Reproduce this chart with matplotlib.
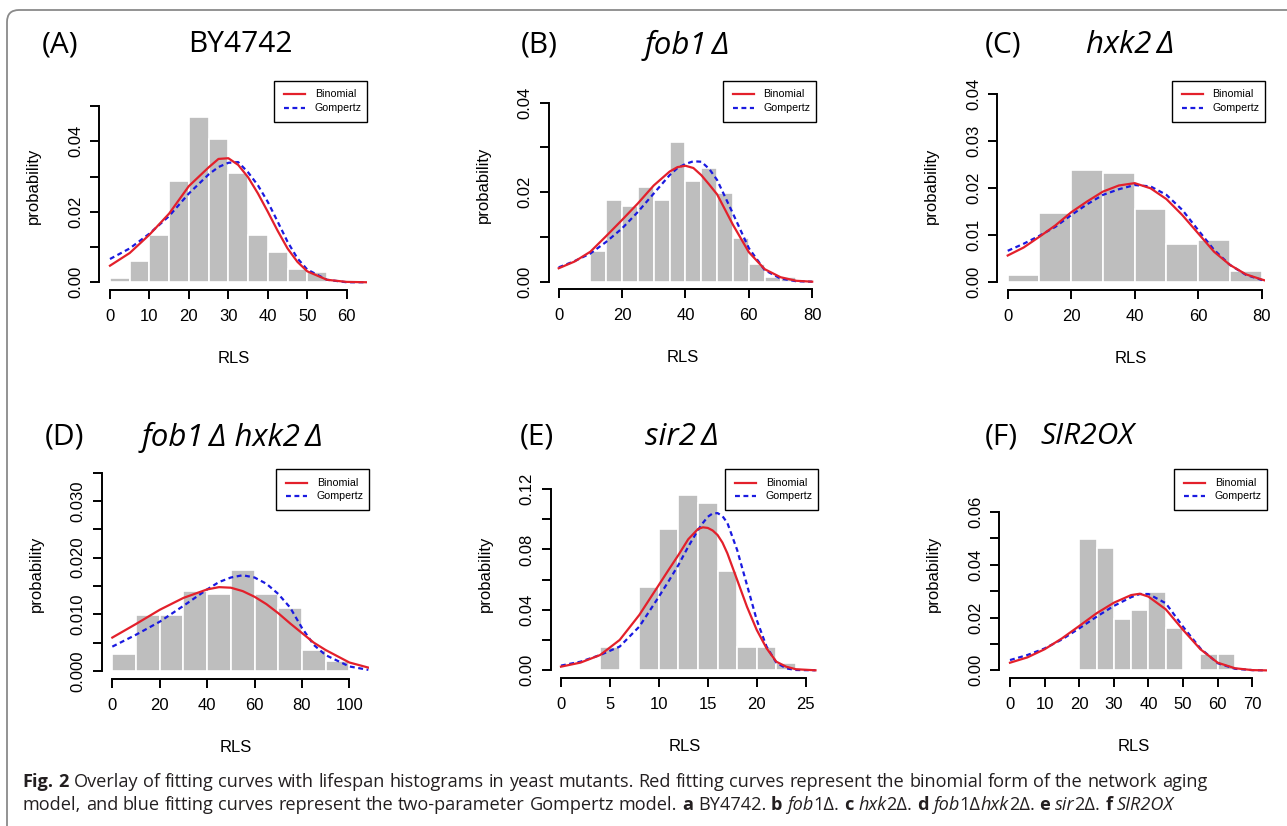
import numpy as np
import matplotlib
matplotlib.use("Agg")
import matplotlib.pyplot as plt
from matplotlib.patches import FancyBboxPatch, Rectangle
from matplotlib.lines import Line2D
from matplotlib.transforms import IdentityTransform

# ---- data ----
# (A) BY4742
a_bin_left = [0, 5, 10, 15, 20, 25, 30, 35, 40, 45, 50]
a_hist = [0.0013, 0.0061, 0.0133, 0.0286, 0.0470, 0.0406, 0.0309, 0.0133, 0.0085, 0.0038, 0.0030]
a_x = [0, 5, 10, 15, 20, 25, 27.5, 30, 32.5, 35, 37.5, 40, 42.5, 45, 47.5, 50, 55, 60, 65]
a_binom = [0.0047, 0.0083, 0.0135, 0.0195, 0.0273, 0.0326, 0.0350, 0.0352, 0.0333, 0.0298, 0.0252,
           0.0200, 0.0146, 0.0096, 0.0058, 0.0031, 0.0007, 0.0001, 0.0]
a_gomp = [0.0066, 0.0096, 0.0138, 0.0188, 0.0252, 0.0306, 0.0327, 0.0339, 0.0341, 0.0312, 0.0275,
          0.0228, 0.0172, 0.0115, 0.0068, 0.0036, 0.0007, 0.0, 0.0]

# (B) fob1
b_bin_left = [10, 15, 20, 25, 30, 35, 40, 45, 50, 55, 60, 65, 70]
b_hist = [0.0069, 0.0183, 0.0169, 0.0212, 0.0183, 0.0311, 0.0226, 0.0255, 0.0198, 0.0097, 0.0039, 0.0010, 0.0010]
b_x = [0, 5, 10, 15, 20, 25, 30, 35, 37.5, 40, 42.5, 45, 47.5, 50, 55, 60, 65, 70, 75, 80]
b_binom = [0.0030, 0.0045, 0.0067, 0.0102, 0.0138, 0.0175, 0.0215, 0.0246, 0.0256, 0.0259, 0.0254,
           0.0238, 0.0217, 0.0195, 0.0127, 0.0066, 0.0028, 0.0010, 0.0002, 0.0]
b_gomp = [0.0032, 0.0046, 0.0063, 0.0089, 0.0119, 0.0156, 0.0197, 0.0238, 0.0254, 0.0263, 0.0269,
          0.0268, 0.0252, 0.0227, 0.0152, 0.0075, 0.0026, 0.0007, 0.0001, 0.0]

# (C) hxk2
c_bin_left = [0, 10, 20, 30, 40, 50, 60, 70]
c_hist = [0.0016, 0.0148, 0.0240, 0.0232, 0.0157, 0.0082, 0.0090, 0.0023]
c_x = [0, 5, 10, 15, 20, 25, 30, 35, 40, 45, 50, 55, 60, 65, 70, 75, 80, 81]
c_binom = [0.0057, 0.0074, 0.0097, 0.0121, 0.0149, 0.0172, 0.0193, 0.0206, 0.0211, 0.0200, 0.0177,
           0.0143, 0.0104, 0.0065, 0.0037, 0.0017, 0.0006, 0.0004]
c_gomp = [0.0067, 0.0082, 0.0099, 0.0118, 0.0143, 0.0166, 0.0186, 0.0198, 0.0207, 0.0204, 0.0186,
          0.0154, 0.0111, 0.0069, 0.0037, 0.0016, 0.0005, 0.0003]

# (D) fob1 hxk2
d_bin_left = [0, 10, 20, 30, 40, 50, 60, 70, 80, 90]
d_hist = [0.0030, 0.0099, 0.0099, 0.0142, 0.0136, 0.0179, 0.0136, 0.0111, 0.0037, 0.0018]
d_x = [0, 10, 20, 30, 40, 45, 50, 55, 60, 65, 70, 75, 80, 85, 90, 100, 108]
d_binom = [0.0059, 0.0083, 0.0108, 0.0129, 0.0144, 0.0148, 0.0147, 0.0141, 0.0131, 0.0118, 0.0102,
           0.0084, 0.0067, 0.0050, 0.0037, 0.0015, 0.0006]
d_gomp = [0.0043, 0.0064, 0.0087, 0.0115, 0.0144, 0.0157, 0.0165, 0.0169, 0.0165, 0.0154, 0.0136,
          0.0112, 0.0076, 0.0046, 0.0028, 0.0008, 0.0002]

# (E) sir2
e_bin_left = [4, 8, 10, 12, 14, 16, 18, 20, 22]
e_hist = [0.0157, 0.0549, 0.0937, 0.1160, 0.1105, 0.0659, 0.0157, 0.0157, 0.0051]
e_x = [0, 2, 4, 6, 8, 10, 11, 12, 13, 14, 14.5, 15, 15.5, 16, 16.5, 17, 18, 19, 20, 21, 22, 23, 24, 26]
e_binom = [0.0024, 0.0051, 0.0101, 0.0201, 0.0366, 0.0565, 0.0665, 0.0763, 0.0867, 0.0935, 0.0946,
           0.0942, 0.0925, 0.0895, 0.0845, 0.0774, 0.0598, 0.0421, 0.0267, 0.0146, 0.0057, 0.0024, 0.0007, 0.0]
e_gomp = [0.0031, 0.0057, 0.0101, 0.0157, 0.0289, 0.0487, 0.0590, 0.0697, 0.0818, 0.0928, 0.0975,
          0.1016, 0.1038, 0.1040, 0.1020, 0.0975, 0.0796, 0.0565, 0.0333, 0.0157, 0.0051, 0.0013, 0.0002, 0.0]

# (F) SIR2OX
f_bin_left = [20, 25, 30, 35, 40, 45, 55, 60]
f_hist = [0.0496, 0.0462, 0.0196, 0.0229, 0.0295, 0.0162, 0.0062, 0.0062]
f_x = [0, 5, 10, 15, 20, 25, 30, 35, 37.5, 40, 45, 50, 55, 60, 65, 70, 74]
f_binom = [0.0029, 0.0049, 0.0080, 0.0121, 0.0168, 0.0216, 0.0256, 0.0285, 0.0290, 0.0279, 0.0231,
           0.0153, 0.0080, 0.0029, 0.0008, 0.0001, 0.0]
f_gomp = [0.0039, 0.0058, 0.0083, 0.0117, 0.0159, 0.0203, 0.0244, 0.0277, 0.0289, 0.0289, 0.0254,
          0.0165, 0.0083, 0.0027, 0.0006, 0.0001, 0.0]

W, H = 1287, 826
fig = plt.figure(figsize=(W / 100, H / 100), dpi=100)
fig.patch.set_facecolor("white")

AX_FONT = ["Liberation Sans", "DejaVu Sans"]
TXT_FONT = ["Open Sans", "DejaVu Sans"]
RED = "#e3202b"
BLUE = "#1a1ae0"
GREY = "#bebebe"
DASH = (0, (2.2, 1.6))


def px_axes(left, top, right, bottom):
    return fig.add_axes([left / W, 1 - bottom / H, (right - left) / W, (bottom - top) / H])


def fig_text(x, y, s, **kw):
    return fig.text(x / W, 1 - y / H, s, **kw)


def fig_line(x0, x1, y, **kw):
    fig.add_artist(Line2D([x0 / W, x1 / W], [1 - y / H] * 2, transform=fig.transFigure, **kw))


def legend_box(right, top):
    # R-style legend in the top right corner of the plot region
    fig.add_artist(Rectangle(((right - 93.3) / W, 1 - (top + 41) / H), 93.3 / W, 41 / H,
                             transform=fig.transFigure, facecolor="white", edgecolor="black", lw=1.0))
    for dy, col, ls, lab in [(13.3, RED, "-", "Binomial"), (27.0, BLUE, DASH, "Gompertz")]:
        fig_line(right - 83.3, right - 62.3, top + dy, color=col, lw=1.6, ls=ls)
        fig_text(right - 52.5, top + dy, lab, family=AX_FONT, fontsize=7.7, va="center", ha="left")


# plot region in pixels, axis limits, ticks
panels = [
    dict(bins=a_bin_left, w=5, hist=a_hist, x=a_x, b=a_binom, g=a_gomp,
         box=(99.3, 80.7, 367.3, 290.0), xlim=(-2.71, 65.22), ylim=(-0.0022, 0.0572),
         xt=np.arange(0, 61, 10), yt=np.arange(0, 0.0501, 0.01), ylab=["0.00", "", "0.02", "", "0.04", ""]),
    dict(bins=b_bin_left, w=5, hist=b_hist, x=b_x, b=b_binom, g=b_gomp,
         box=(549.0, 80.7, 816.0, 289.3), xlim=(-3.06, 81.2), ylim=(-0.0017, 0.0449),
         xt=np.arange(0, 81, 20), yt=np.arange(0, 0.0401, 0.01), ylab=["0.00", "", "0.02", "", "0.04"]),
    dict(bins=c_bin_left, w=10, hist=c_hist, x=c_x, b=c_binom, g=c_gomp,
         box=(997.3, 80.7, 1265.0, 290.0), xlim=(-3.28, 81.04), ylim=(-0.00164, 0.0429),
         xt=np.arange(0, 81, 20), yt=np.arange(0, 0.0401, 0.01), ylab=["0.00", "0.01", "0.02", "0.03", "0.04"]),
    dict(bins=d_bin_left, w=10, hist=d_hist, x=d_x, b=d_binom, g=d_gomp,
         box=(102.0, 469.3, 369.3, 678.7), xlim=(-4.35, 108.4), ylim=(-0.00136, 0.0356),
         xt=np.arange(0, 101, 20), yt=np.arange(0, 0.03501, 0.005),
         ylab=["0.000", "", "0.010", "", "0.020", "", "0.030", ""]),
    dict(bins=e_bin_left, w=2, hist=e_hist, x=e_x, b=e_binom, g=e_gomp,
         box=(551.0, 469.3, 818.3, 678.3), xlim=(-1.02, 26.29), ylim=(-0.0053, 0.133),
         xt=np.arange(0, 26, 5), yt=np.arange(0, 0.1201, 0.02),
         ylab=["0.00", "", "0.04", "", "0.08", "", "0.12"]),
    dict(bins=f_bin_left, w=5, hist=f_hist, x=f_x, b=f_binom, g=f_gomp,
         box=(999.3, 469.3, 1267.3, 678.3), xlim=(-3.09, 74.32), ylim=(-0.003, 0.0761),
         xt=np.arange(0, 71, 10), yt=np.arange(0, 0.0601, 0.01),
         ylab=["0.00", "", "0.02", "", "0.04", "", "0.06"]),
]

for p in panels:
    l, t, r, b = p["box"]
    ax = px_axes(l, t, r, b)
    ax.bar(p["bins"], p["hist"], width=p["w"], align="edge", color=GREY,
           edgecolor="white", linewidth=1.2, zorder=1)
    ax.plot(p["x"], p["b"], color=RED, lw=1.6, zorder=3)
    ax.plot(p["x"], p["g"], color=BLUE, lw=1.6, ls=DASH, zorder=2)
    ax.set_xlim(*p["xlim"])
    ax.set_ylim(*p["ylim"])
    for s in ("top", "right"):
        ax.spines[s].set_visible(False)
    for s in ("left", "bottom"):
        ax.spines[s].set_linewidth(1.4)
    ax.spines["bottom"].set_bounds(p["xt"][0], p["xt"][-1])
    ax.spines["left"].set_bounds(p["yt"][0], p["yt"][-1])
    ax.set_xticks(p["xt"])
    ax.set_xticklabels([str(int(v)) for v in p["xt"]], family=AX_FONT)
    ax.set_yticks(p["yt"])
    ax.set_yticklabels(p["ylab"], family=AX_FONT, rotation=90, va="center")
    ax.tick_params(direction="out", length=6.7, width=1.4, labelsize=12, color="black")
    ax.tick_params(axis="x", pad=7)
    ax.tick_params(axis="y", pad=5)
    ax.patch.set_alpha(0)
    legend_box(r, t)
    fig_text((l + r) / 2, b + 68.5, "RLS", family=AX_FONT, fontsize=12, ha="center", va="center")
    fig_text(l - 66, (t + b) / 2, "probability", family=AX_FONT, fontsize=12,
             rotation=90, ha="center", va="center")

# panel titles
titles = [
    (42, 45, "(A)", "normal", 21.5), (188, 45, "BY4742", "normal", 21.5),
    (521, 45, "(B)", "normal", 21.5), (645, 45, "fob1\u2009\u0394", "italic", 22.5),
    (985, 45, "(C)", "normal", 21.5), (1086, 45, "hxk2\u2009\u0394", "italic", 22.5),
    (45, 437, "(D)", "normal", 21.5), (142, 437, "fob1\u2009\u0394 hxk2\u2009\u0394", "italic", 22.5),
    (520, 437, "(E)", "normal", 21.5), (645, 437, "sir2\u2009\u0394", "italic", 22.5),
    (985, 437, "(F)", "normal", 21.5), (1040, 437, "SIR2OX", "italic", 21.5),
]
for x, y, s, st, fs in titles:
    fig_text(x, y, s, family=TXT_FONT, fontsize=fs, style=st, ha="left", va="center")

# caption
renderer = fig.canvas.get_renderer()
CAP = 13.1


def width_of(s, **kw):
    t = fig.text(0, 0, s, fontsize=CAP, family=TXT_FONT, **kw)
    w = t.get_window_extent(renderer=renderer).width
    t.remove()
    return w


space_w = width_of("x x") - width_of("xx")


def draw_runs(x, y, runs):
    for s, weight, style in runs:
        words = s.split(" ")
        for i, word in enumerate(words):
            if word:
                t = fig_text(x, y, word, fontsize=CAP, family=TXT_FONT, weight=weight,
                             style=style, va="baseline", ha="left", color="#231f20")
                x += t.get_window_extent(renderer=renderer).width
            if i < len(words) - 1:
                x += space_w


N, B, I = ("normal", "normal"), ("bold", "normal"), ("normal", "italic")
line1 = [("Fig. 2", *B),
         (" Overlay of fitting curves with lifespan histograms in yeast mutants. Red fitting curves "
          "represent the binomial form of the network aging", *N)]
line2 = [("model, and blue fitting curves represent the two-parameter Gompertz model. ", *N),
         ("a", *B), (" BY4742. ", *N),
         ("b", *B), (" ", *N), ("fob", *I), ("1\u0394. ", *N),
         ("c", *B), (" ", *N), ("hxk", *I), ("2\u0394. ", *N),
         ("d", *B), (" ", *N), ("fob", *I), ("1\u0394", *N), ("hxk", *I), ("2\u0394. ", *N),
         ("e", *B), (" ", *N), ("sir", *I), ("2\u0394. ", *N),
         ("f", *B), (" ", *N), ("SIR2OX", *I)]
draw_runs(22.7, 786.7, line1)
draw_runs(22.7, 810.0, line2)

# outer rounded frame
frame = FancyBboxPatch((7, -30), 1340, H - 10 + 30, boxstyle="round,pad=0,rounding_size=12",
                       transform=IdentityTransform(), fill=False, edgecolor="#8a8a8a", lw=1.3)
fig.add_artist(frame)

fig.savefig("out.png", dpi=100)
